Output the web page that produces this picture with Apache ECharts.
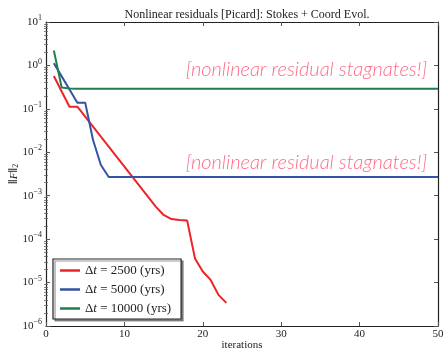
<!DOCTYPE html>
<html>
<head>
<meta charset="utf-8">
<script src="https://cdn.jsdelivr.net/npm/echarts@6/dist/echarts.min.js"></script>
<style>
html, body { margin: 0; padding: 0; background: #fff; }
#chart { width: 444px; height: 349px; }
</style>
</head>
<body>
<div id="chart"></div>
<script>
// iteration numbers (x)
const iterations = [1, 2, 3, 4, 5, 6, 7, 8, 9, 10, 11, 12, 13, 14, 15, 16, 17, 18, 19, 20,
	21, 22, 23, 24, 25, 26, 27, 28, 29, 30, 31, 32, 33, 34, 35, 36, 37, 38, 39, 40,
	41, 42, 43, 44, 45, 46, 47, 48, 49, 50];

// ||F||_2 per iteration
const res2500 = [0.57, 0.25, 0.112, 0.112, 0.066, 0.039, 0.0229, 0.0135, 0.0079, 0.0047,
	0.00275, 0.00162, 0.00095, 0.00056, 0.00036, 0.00029, 0.000275, 0.00027, 3.6e-5, 1.8e-5,
	1.15e-5, 5.2e-6, 3.4e-6];
const res5000 = [1.12, 0.56, 0.28, 0.139, 0.139, 0.0192, 0.0051, 0.0027, 0.0027, 0.0027,
	0.0027, 0.0027, 0.0027, 0.0027, 0.0027, 0.0027, 0.0027, 0.0027, 0.0027, 0.0027,
	0.0027, 0.0027, 0.0027, 0.0027, 0.0027, 0.0027, 0.0027, 0.0027, 0.0027, 0.0027,
	0.0027, 0.0027, 0.0027, 0.0027, 0.0027, 0.0027, 0.0027, 0.0027, 0.0027, 0.0027,
	0.0027, 0.0027, 0.0027, 0.0027, 0.0027, 0.0027, 0.0027, 0.0027, 0.0027, 0.0027];
const res10000 = [2.2, 0.31, 0.295, 0.29, 0.29, 0.29, 0.29, 0.29, 0.29, 0.29,
	0.29, 0.29, 0.29, 0.29, 0.29, 0.29, 0.29, 0.29, 0.29, 0.29,
	0.29, 0.29, 0.29, 0.29, 0.29, 0.29, 0.29, 0.29, 0.29, 0.29,
	0.29, 0.29, 0.29, 0.29, 0.29, 0.29, 0.29, 0.29, 0.29, 0.29,
	0.29, 0.29, 0.29, 0.29, 0.29, 0.29, 0.29, 0.29, 0.29, 0.29];

const stepSizes = ["2500", "5000", "10000"];
const xTicks = [0, 10, 20, 30, 40, 50];
const yDecades = [-6, -5, -4, -3, -2, -1, 0, 1];
const note = "[nonlinear residual stagnates!]";

const serif = "'Liberation Serif', 'DejaVu Serif', serif";
const colors = ["#ee2328", "#3552a3", "#1f7f4f"];

// minor log ticks (2..9 in every decade), in log10 space
const minorTicks = [];
for (let d = yDecades[0]; d < yDecades[yDecades.length - 1]; d++) {
	for (let m = 2; m <= 9; m++) minorTicks.push(d + Math.log10(m));
}

const toPairs = vals => vals.map((v, i) => [iterations[i], v]);
const supDigits = { "-": "\u2212" };
const expLabel = v => {
	const e = String(Math.round(Math.log10(v)));
	return "{b|10}{e|" + e.split("").map(c => supDigits[c] || c).join("") + "}";
};

const chart = echarts.init(document.getElementById("chart"));

const frameLine = { show: true, onZero: false, lineStyle: { color: "#222", width: 1.2 } };
const majorTick = { show: true, inside: true, length: 4, lineStyle: { color: "#555", width: 1 } };
const minorTick = { show: true, inside: true, length: 2, lineStyle: { color: "#666", width: 0.8 } };

const noteLabel = (dy) => ({
	show: true,
	position: "left",
	distance: 11,
	offset: [0, dy],
	formatter: note,
	color: "#ff6a85",
	fontFamily: "Lato, 'Open Sans', sans-serif",
	fontStyle: "italic",
	fontWeight: 300,
	fontSize: 20
});

const option = {
	animation: false,
	title: {
		text: "Nonlinear residuals [Picard]: Stokes + Coord Evol.",
		left: 242,
		textAlign: "center",
		top: 4,
		textStyle: { fontFamily: serif, fontWeight: "normal", fontSize: 12, color: "#222" }
	},
	grid: { left: 46, right: 6, top: 22, bottom: 23, containLabel: false, outerBoundsMode: "none" },
	legend: {
		orient: "vertical",
		left: 53,
		top: 259,
		padding: [5, 10, 4, 7],
		icon: "rect",
		itemWidth: 20,
		itemHeight: 2.5,
		itemGap: 6,
		backgroundColor: "#fff",
		borderColor: "#222",
		borderWidth: 1.2,
		borderRadius: 0,
		shadowColor: "rgba(0,0,0,0.4)",
		shadowOffsetX: 2,
		shadowOffsetY: 2,
		shadowBlur: 0,
		formatter: name => "{r|\u0394}{i|t}{r| = " + name + " (yrs)}",
		textStyle: {
			rich: {
				r: { fontFamily: serif, fontSize: 13, color: "#222", lineHeight: 14 },
				i: { fontFamily: serif, fontStyle: "italic", fontSize: 13, color: "#222", lineHeight: 14 }
			}
		}
	},
	xAxis: [
		{
			type: "value", min: 0, max: 50, interval: 10, position: "bottom",
			name: "iterations", nameLocation: "middle", nameGap: 14, nameMoveOverlap: false,
			nameTextStyle: { fontFamily: serif, fontSize: 11, color: "#222" },
			axisLine: frameLine, axisTick: majorTick,
			axisLabel: { margin: 3, fontFamily: serif, fontSize: 11, color: "#222", customValues: xTicks },
			splitLine: { show: false }
		},
		{
			type: "value", min: 0, max: 50, interval: 10, position: "top",
			axisLine: frameLine, axisTick: majorTick, axisLabel: { show: false }, splitLine: { show: false }
		}
	],
	yAxis: [
		{
			type: "log", logBase: 10, min: 1e-6, max: 10, position: "left",
			name: "\u2016{it|F}\u2016{sub|2}", nameLocation: "middle", nameGap: 26, nameRotate: 90,
			nameMoveOverlap: false,
			nameTextStyle: {
				color: "#222",
				rich: {
					it: { fontFamily: serif, fontStyle: "italic", fontSize: 11, color: "#222" },
					sub: { fontFamily: serif, fontSize: 8, color: "#222", verticalAlign: "bottom", lineHeight: 10 }
				}
			},
			axisLine: frameLine, axisTick: majorTick,
			axisLabel: {
				margin: 4,
				formatter: expLabel,
				rich: {
					b: { fontFamily: serif, fontSize: 11, color: "#222", lineHeight: 16 },
					e: { fontFamily: serif, fontSize: 8, color: "#222", verticalAlign: "top", lineHeight: 9 }
				}
			},
			splitLine: { show: false }
		},
		{
			type: "log", logBase: 10, min: 1e-6, max: 10, position: "right",
			axisLine: frameLine, axisTick: majorTick, axisLabel: { show: false }, splitLine: { show: false }
		},
		{
			type: "value", min: yDecades[0], max: yDecades[yDecades.length - 1], position: "left",
			axisLine: { show: false }, axisTick: Object.assign({ customValues: minorTicks }, minorTick),
			axisLabel: { show: false }, splitLine: { show: false }
		},
		{
			type: "value", min: yDecades[0], max: yDecades[yDecades.length - 1], position: "right",
			axisLine: { show: false }, axisTick: Object.assign({ customValues: minorTicks }, minorTick),
			axisLabel: { show: false }, splitLine: { show: false }
		}
	],
	series: [
		{
			name: stepSizes[0], type: "line", data: toPairs(res2500), symbol: "none",
			lineStyle: { width: 2, color: colors[0] }, itemStyle: { color: colors[0] }
		},
		{
			name: stepSizes[1], type: "line", data: toPairs(res5000), symbol: "none",
			lineStyle: { width: 2, color: colors[1] }, itemStyle: { color: colors[1] },
			markPoint: {
				silent: true, symbol: "circle", symbolSize: 0,
				data: [{ coord: [iterations[iterations.length - 1], res5000[res5000.length - 1]], label: noteLabel(-14) }]
			}
		},
		{
			name: stepSizes[2], type: "line", data: toPairs(res10000), symbol: "none",
			lineStyle: { width: 2, color: colors[2] }, itemStyle: { color: colors[2] },
			markPoint: {
				silent: true, symbol: "circle", symbolSize: 0,
				data: [{ coord: [iterations[iterations.length - 1], res10000[res10000.length - 1]], label: noteLabel(-19) }]
			}
		}
	]
};

chart.setOption(option);
</script>
</body>
</html>
